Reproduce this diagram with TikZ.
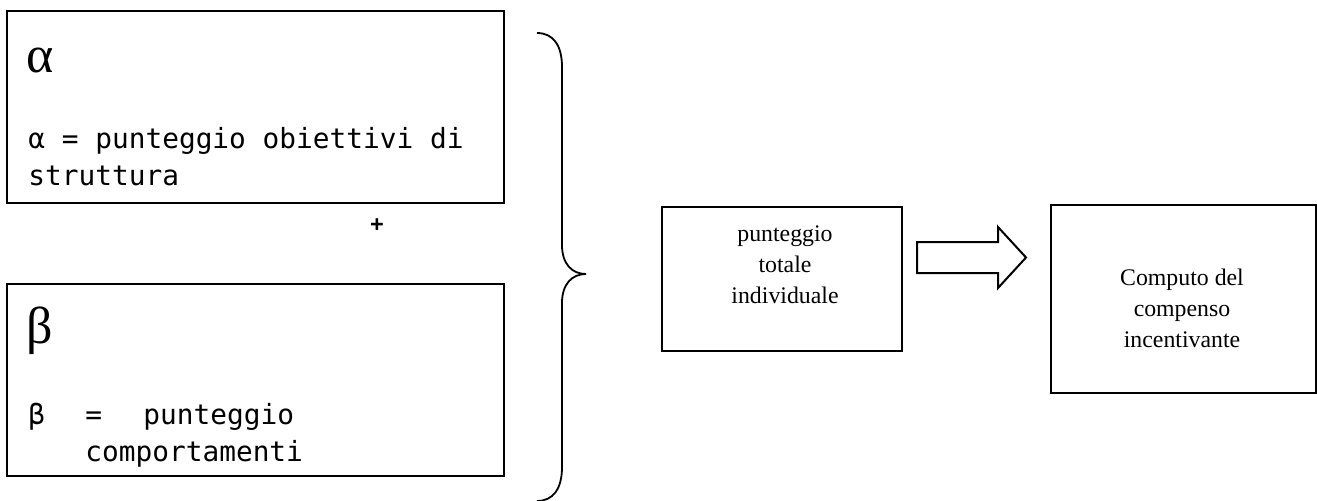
\documentclass[tikz,border=0pt]{standalone}
\usepackage{fontspec}
\setmainfont{Liberation Serif}
\newfontfamily\codefont{DejaVu Sans Mono}

\tikzset{
    box/.style={draw, line width=1pt, inner sep=0pt},
    code/.style={font=\codefont\fontsize{13.9pt}{18.5pt}\selectfont, align=left, inner sep=0pt},
    plain/.style={font=\fontsize{11.9pt}{15.5pt}\selectfont, align=center, inner sep=0pt},
    greek/.style={font=\fontsize{26pt}{30pt}\selectfont, inner sep=0pt},
    brace/.style={line width=0.9pt},
    blockarrow/.style={line width=1pt, line join=miter},
}

\begin{document}
\begin{tikzpicture}[x=0.5pt, y=-0.5pt]

    \useasboundingbox (0,0) rectangle (1317,500);

    % Two boxes on the left

    \node[box, minimum width=248.5pt, minimum height=96pt] (alphabox) at (255.5,107) {};
    \node[box, minimum width=248.5pt, minimum height=96pt] (betabox) at (255.5,380) {};

    \node[greek, anchor=base west] (alpha) at (26,72) {α};
    \node[code, anchor=north west] (alphatext) at (28,127) {α = punteggio obiettivi di\\struttura};

    \node[font=\codefont\bfseries\fontsize{11pt}{12pt}\selectfont, inner sep=0pt] (plus) at (377,225) {+};

    \node[greek, anchor=base west] (beta) at (26,343) {β};
    \node[code, anchor=north west] (betatext) at (28,402) {\makebox[28.5pt][l]{β}\makebox[29pt][l]{=}punteggio\\\hspace*{28.5pt}comportamenti};

    % Brace

    \draw[brace] (537,33) .. controls (553,33) and (562,45) .. (562,67) -- (562,245)
        .. controls (562,264) and (572,274) .. (586,274)
        .. controls (572,274) and (562,284) .. (562,303) -- (562,467)
        .. controls (562,489) and (553,501) .. (537,501);

    % Boxes on the right

    \node[box, minimum width=120pt, minimum height=72pt] (total) at (782,279) {};
    \node[plain] (totaltext) at (785,265) {punteggio\\totale\\individuale};

    \node[box, minimum width=132.5pt, minimum height=94pt] (compute) at (1183.5,299) {};
    \node[plain] (computetext) at (1182,308) {Computo del\\compenso\\incentivante};

    % Block arrow

    \coordinate (arrowtail) at (917,257.5);
    \draw[blockarrow] (arrowtail) ++(0,-15.5) -- ++(81,0) -- ++(0,-15) -- ++(28,30.5)
        -- ++(-28,30.5) -- ++(0,-15) -- ++(-81,0) -- cycle;

\end{tikzpicture}
\end{document}
